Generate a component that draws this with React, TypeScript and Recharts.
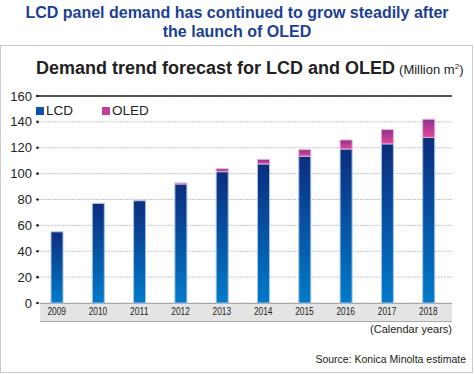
import React from "react";
import {
  BarChart,
  Bar,
  XAxis,
  YAxis,
  CartesianGrid,
  ReferenceLine,
} from "recharts";

const years = ["2009", "2010", "2011", "2012", "2013", "2014", "2015", "2016", "2017", "2018"];
const lcdValues = [55, 77, 79, 92, 101.5, 107.5, 113.5, 119, 123, 128];
const oledValues = [0, 0, 0, 0.8, 2.3, 3.5, 5, 7, 11, 14];
const yTicks = [0, 20, 40, 60, 80, 100, 120, 140, 160];
const seriesNames = ["LCD", "OLED"];
const legendColors = ["#0a52aa", "#c13f98"];

const data = years.map((y, i) => ({ year: y, LCD: lcdValues[i], OLED: oledValues[i] }));

const FONT = "'Liberation Sans', Arial, Helvetica, sans-serif";

const YTick = (props: any) => {
  const { y, payload } = props;
  return (
    <g>
      <text x={32} y={y} dy="0.35em" textAnchor="end" fontSize={13} fill="#222" fontFamily={FONT}>
        {payload.value}
      </text>
      <circle cx={37.5} cy={y} r={1.3} fill="#222" />
    </g>
  );
};

const XTick = (props: any) => {
  const { x, y, payload } = props;
  return (
    <text
      x={x}
      y={y}
      dy="0.71em"
      textAnchor="middle"
      fontSize={10}
      fill="#222"
      fontFamily={FONT}
      textLength={18.5}
      lengthAdjust="spacingAndGlyphs"
    >
      {payload.value}
    </text>
  );
};

export default function App() {
  return (
    <div style={{ position: "absolute", left: 0, top: 0, width: 474, height: 374, background: "#fff", fontFamily: FONT }}>
      <div
        style={{
          position: "absolute",
          left: 0,
          top: 3,
          width: 474,
          textAlign: "center",
          color: "#1b3f94",
          fontWeight: "bold",
          fontSize: 16,
          lineHeight: "19px",
        }}
      >
        LCD panel demand has continued to grow steadily after
        <br />
        the launch of OLED
      </div>
      <div
        style={{
          position: "absolute",
          left: 0,
          top: 45,
          width: 471,
          height: 326,
          border: "1px solid #c8ccd4",
        }}
      />
      <div style={{ position: "absolute", left: 36, top: 58, whiteSpace: "nowrap", color: "#222" }}>
        <span style={{ fontWeight: "bold", fontSize: 18 }}>Demand trend forecast for LCD and OLED</span>
        <span style={{ fontSize: 13, marginLeft: 4 }}>
          (Million m<sup style={{ fontSize: 8 }}>2</sup>)
        </span>
      </div>
      <div
        style={{
          position: "absolute",
          left: 40,
          top: 303,
          width: 412,
          height: 17,
          background: "#e4e4e4",
          borderTop: "1px solid #999",
          borderBottom: "1px solid #aaa",
        }}
      />
      <div style={{ position: "absolute", left: 0, top: 0 }}>
        <BarChart
          width={474}
          height={374}
          data={data}
          margin={{ top: 96, right: 22, bottom: 0, left: 0 }}
        >
          <defs>
            <linearGradient id="lcdGrad" x1="0" y1="0" x2="0" y2="1">
              <stop offset="0%" stopColor="#0c2d7e" />
              <stop offset="100%" stopColor="#007bca" />
            </linearGradient>
            <linearGradient id="oledGrad" x1="0" y1="0" x2="0" y2="1">
              <stop offset="0%" stopColor="#8e2f8a" />
              <stop offset="100%" stopColor="#e3489c" />
            </linearGradient>
          </defs>
          <CartesianGrid vertical={false} stroke="#c4c4c4" strokeDasharray="2 1" />
          <XAxis
            dataKey="year"
            height={71}
            axisLine={false}
            tickLine={false}
            tickSize={0}
            tickMargin={5}
            tick={<XTick />}
            padding={{ left: 0, right: 3 }}
            interval={0}
          />
          <YAxis
            width={36}
            domain={[0, 160]}
            ticks={yTicks}
            axisLine={false}
            tickLine={false}
            tick={<YTick />}
            interval={0}
          />
          <ReferenceLine y={160} stroke="#222" strokeWidth={1.5} />
          <Bar
            dataKey="LCD"
            stackId="a"
            barSize={12}
            fill="url(#lcdGrad)"
            stroke="#a7c2e3"
            strokeWidth={1}
            isAnimationActive={false}
          />
          <Bar
            dataKey="OLED"
            stackId="a"
            barSize={12}
            fill="url(#oledGrad)"
            stroke="#e0b0d4"
            strokeWidth={1}
            isAnimationActive={false}
          />
        </BarChart>
      </div>
      <div
        style={{
          position: "absolute",
          left: 36,
          top: 103,
          display: "flex",
          fontSize: 13.5,
          color: "#222",
          lineHeight: "16px",
          background: "#fff",
        }}
      >
        {seriesNames.map((name, i) => (
          <div key={name} style={{ display: "flex", alignItems: "center", width: 66 }}>
            <span
              style={{
                display: "inline-block",
                width: 8,
                height: 8,
                background: legendColors[i],
                marginRight: 2,
              }}
            />
            <span>{name}</span>
          </div>
        ))}
      </div>
      <div style={{ position: "absolute", right: 22, top: 323, fontSize: 11, color: "#222" }}>
        (Calendar years)
      </div>
      <div style={{ position: "absolute", right: 8, top: 353, fontSize: 10.5, color: "#222" }}>
        Source: Konica Minolta estimate
      </div>
    </div>
  );
}
